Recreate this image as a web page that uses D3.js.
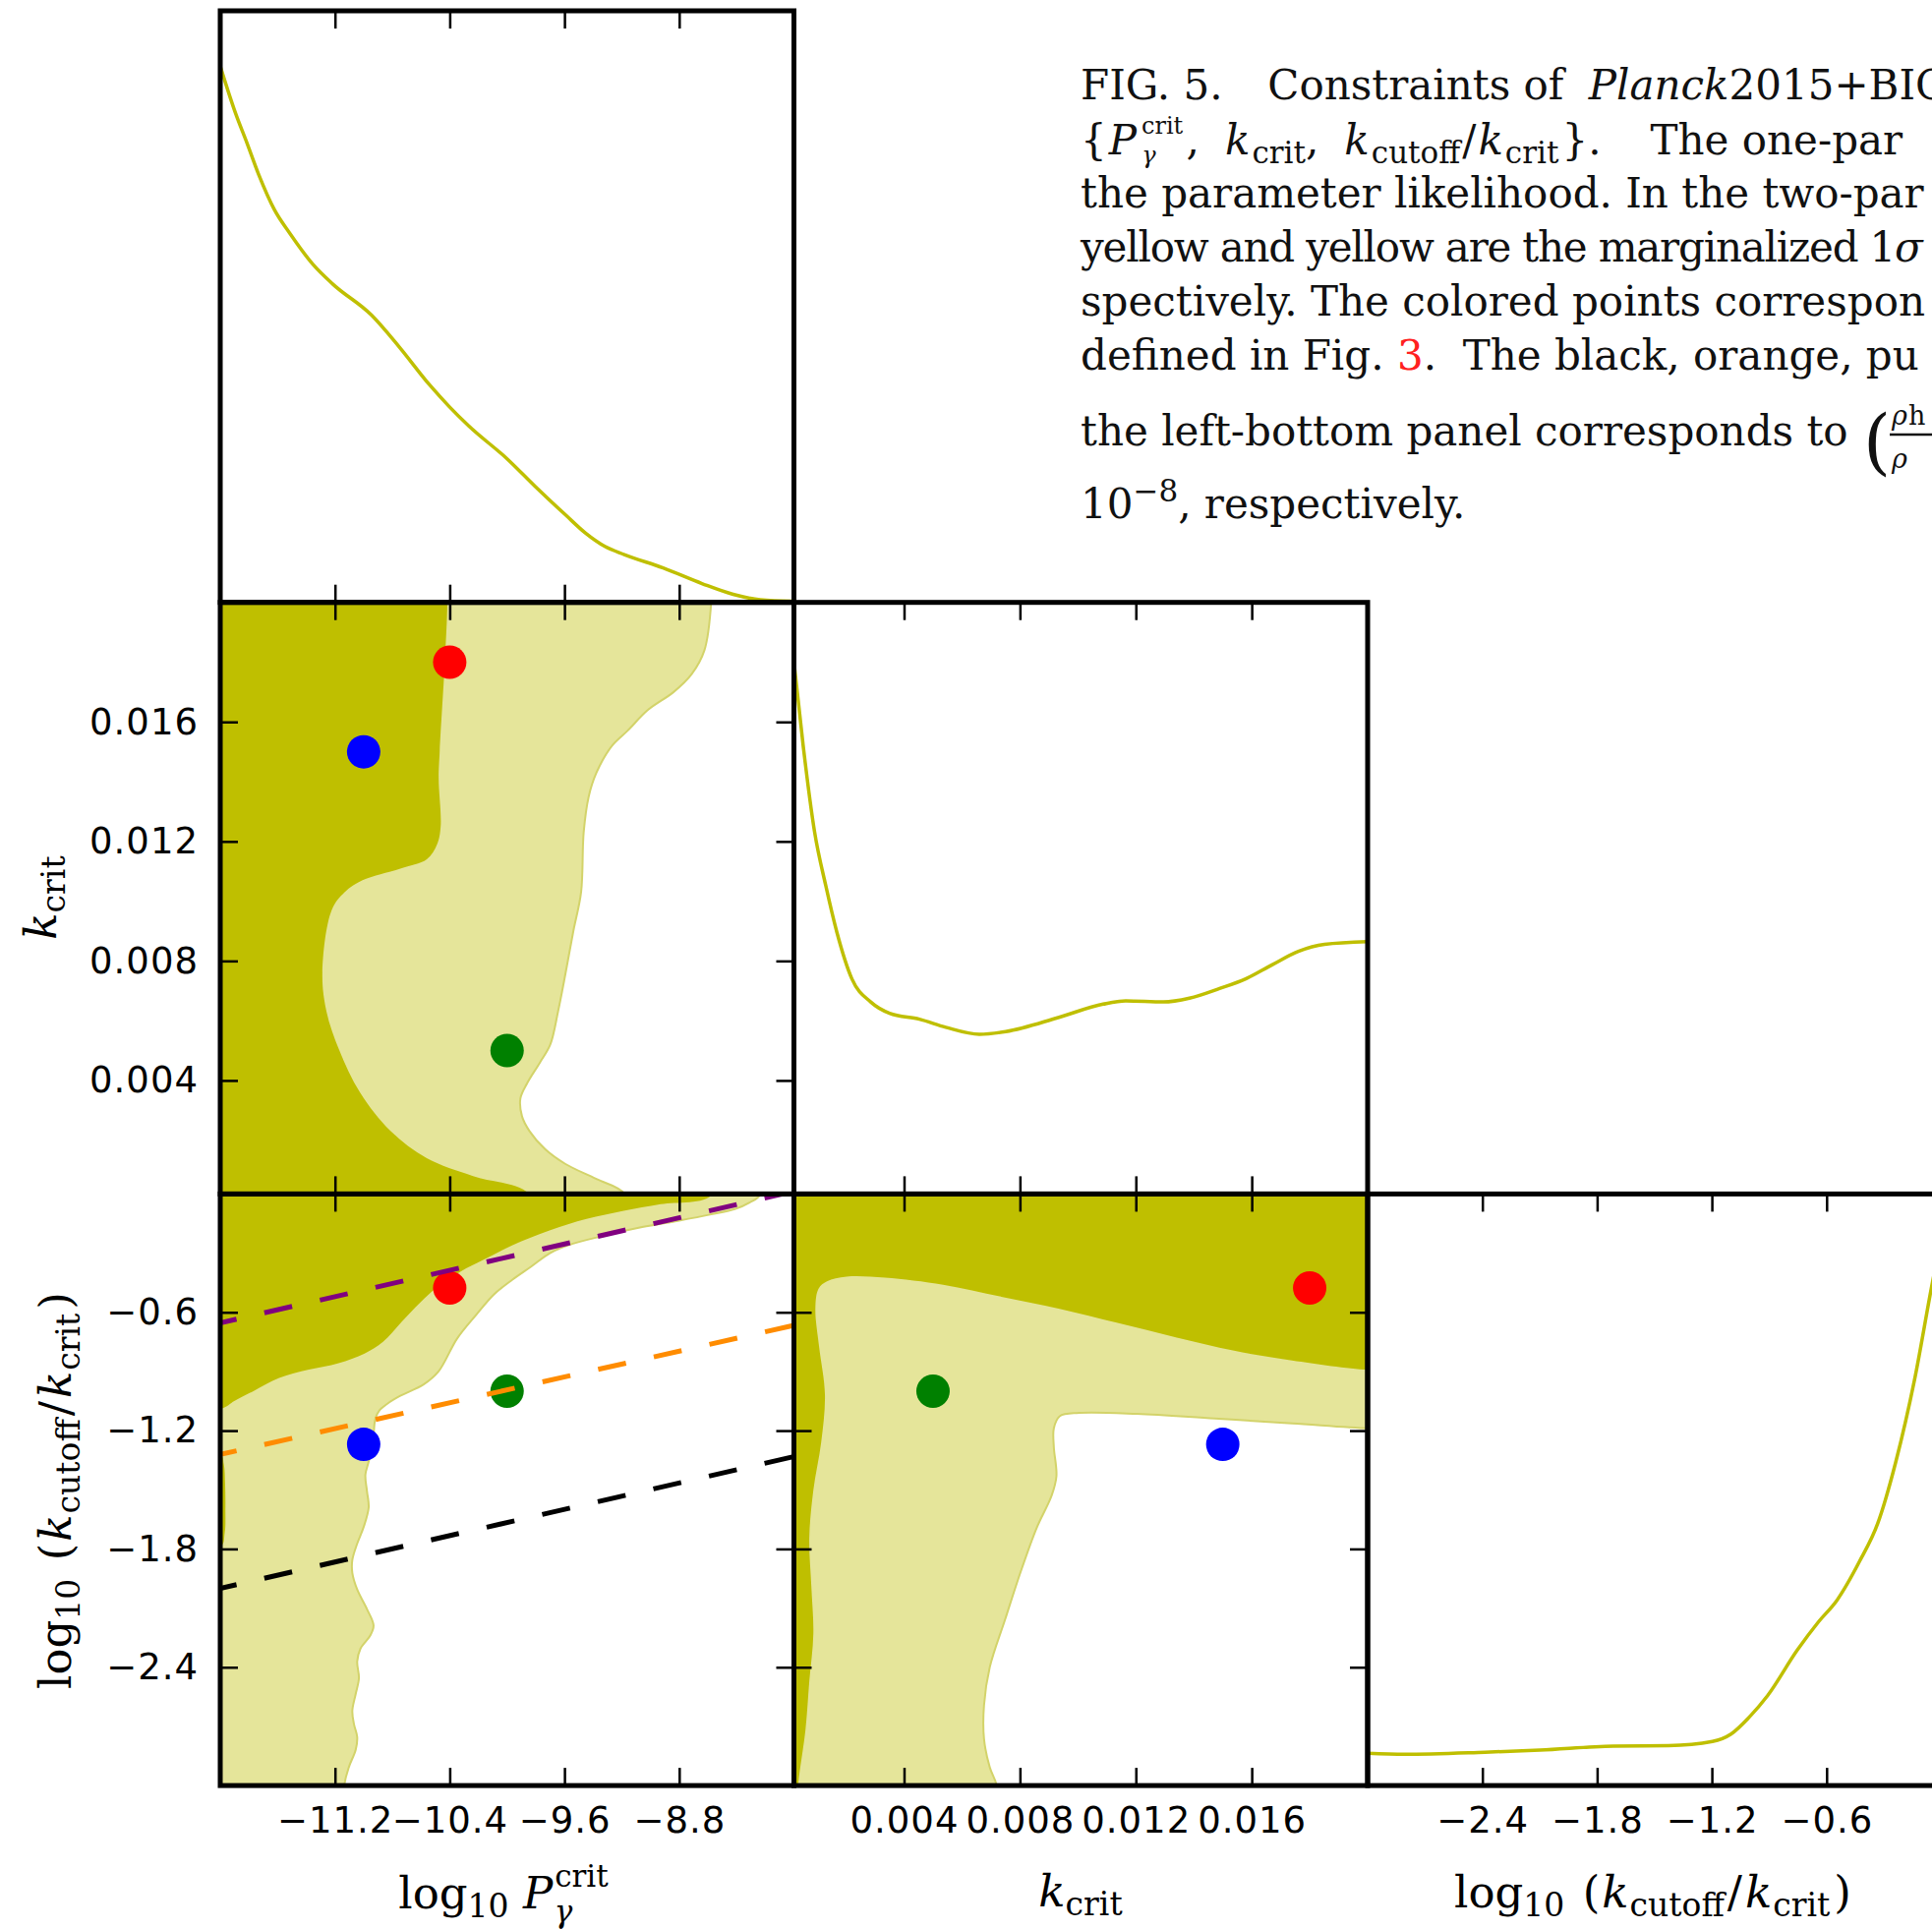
<!DOCTYPE html>
<html>
<head>
<meta charset="utf-8">
<script src="https://cdn.jsdelivr.net/npm/d3@7"></script>
<style>
  body { margin: 0; background: #fff; }
  svg { display: block; }
  text { white-space: pre; }
</style>
</head>
<body>
<svg id="chart" width="1965" height="1962"></svg>
<script>
// axis ranges and tick values
const pDomain = [-12, -8];        // log10 P_gamma^crit
const kDomain = [0.0002, 0.020];  // k_crit
const rDomain = [-3, 0];          // log10 (k_cutoff / k_crit)
const pTicks = [-11.2, -10.4, -9.6, -8.8];
const kTicks = [0.004, 0.008, 0.012, 0.016];
const rTicks = [-2.4, -1.8, -1.2, -0.6];

// one-parameter likelihoods (normalised to 1 at peak)
const pLike = [[-12.0, 0.997], [-11.894, 0.910], [-11.812, 0.853], [-11.731, 0.795], [-11.622, 0.730],
  [-11.514, 0.686], [-11.352, 0.628], [-11.216, 0.592], [-10.945, 0.534], [-10.755, 0.476],
  [-10.539, 0.404], [-10.403, 0.364], [-10.267, 0.328], [-9.996, 0.266], [-9.806, 0.216],
  [-9.59, 0.162], [-9.454, 0.129], [-9.318, 0.104], [-9.183, 0.089], [-8.912, 0.064],
  [-8.641, 0.035], [-8.424, 0.015], [-8.235, 0.005], [-8.0, 0.002]];
const kLike = [[0.0002, 0.99], [0.00052, 0.833], [0.00091, 0.674], [0.0013, 0.573], [0.00168, 0.487],
  [0.0022, 0.400], [0.00285, 0.357], [0.0035, 0.336], [0.00453, 0.325], [0.00544, 0.310],
  [0.0066, 0.297], [0.00751, 0.302], [0.00932, 0.328], [0.01087, 0.353], [0.01165, 0.359],
  [0.01295, 0.357], [0.01385, 0.364], [0.01489, 0.382], [0.01579, 0.400], [0.0167, 0.426],
  [0.01761, 0.451], [0.01851, 0.464], [0.020, 0.469]];
const rLike = [[-3.0, 0.060], [-2.808, 0.058], [-2.386, 0.062], [-2.098, 0.066], [-1.715, 0.0735],
  [-1.427, 0.0744], [-1.197, 0.082], [-1.1, 0.0957], [-1.005, 0.127], [-0.909, 0.167],
  [-0.755, 0.251], [-0.641, 0.305], [-0.545, 0.345], [-0.429, 0.416], [-0.333, 0.487],
  [-0.238, 0.602], [-0.141, 0.753], [-0.049, 0.931], [0, 1.02]];

// two-parameter contours: 1 sigma (inner) and 2 sigma (outer) edges
const pkInner = [[-10.416, 0.0200], [-10.434, 0.0180], [-10.47, 0.0150], [-10.477, 0.0141], [-10.463, 0.0125],
  [-10.488, 0.0119], [-10.56, 0.0114], [-10.739, 0.0111], [-10.883, 0.0109], [-11.008, 0.0107],
  [-11.133, 0.0103], [-11.223, 0.0097], [-11.288, 0.0076], [-11.259, 0.0063], [-11.169, 0.0050],
  [-11.026, 0.0036], [-10.811, 0.0023], [-10.56, 0.0014], [-10.237, 0.0008], [-9.843, 0.0002]];
const pkOuter = [[-8.577, 0.0200], [-8.624, 0.0184], [-8.713, 0.0176], [-8.839, 0.0170], [-9.018, 0.0164],
  [-9.161, 0.0157], [-9.269, 0.0152], [-9.377, 0.0143], [-9.431, 0.0135], [-9.466, 0.0123],
  [-9.484, 0.0103], [-9.538, 0.0090], [-9.592, 0.0076], [-9.645, 0.0063], [-9.699, 0.0052],
  [-9.771, 0.0046], [-9.861, 0.0039], [-9.907, 0.0034], [-9.896, 0.0028], [-9.843, 0.0023],
  [-9.735, 0.0017], [-9.592, 0.0012], [-9.377, 0.0007], [-9.179, 0.0002]];
const prInner = [[-8.568, 0], [-8.929, -0.052], [-9.187, -0.085], [-9.446, -0.127], [-9.704, -0.185],
  [-9.962, -0.260], [-10.168, -0.335], [-10.323, -0.393], [-10.478, -0.467], [-10.607, -0.551],
  [-10.737, -0.650], [-10.865, -0.750], [-10.994, -0.809], [-11.175, -0.858], [-11.382, -0.891],
  [-11.589, -0.933], [-11.769, -1.0], [-11.899, -1.049], [-12, -1.091]];
const prOuter = [[-8.232, 0], [-8.309, -0.044], [-8.413, -0.077], [-8.568, -0.102], [-8.8, -0.135],
  [-9.058, -0.168], [-9.316, -0.210], [-9.575, -0.260], [-9.704, -0.301], [-9.832, -0.368],
  [-9.962, -0.434], [-10.091, -0.509], [-10.22, -0.617], [-10.349, -0.734], [-10.478, -0.900],
  [-10.582, -0.966], [-10.748, -1.025], [-10.839, -1.066], [-10.892, -1.099], [-10.919, -1.141],
  [-10.935, -1.257], [-10.965, -1.357], [-10.988, -1.424], [-10.977, -1.507], [-10.965, -1.590],
  [-11.0, -1.689], [-11.045, -1.773], [-11.079, -1.856], [-11.079, -1.922], [-11.045, -2.006],
  [-10.977, -2.105], [-10.931, -2.188], [-10.953, -2.238], [-11.022, -2.305], [-11.045, -2.371],
  [-11.033, -2.455], [-11.056, -2.537], [-11.079, -2.621], [-11.068, -2.687], [-11.045, -2.754],
  [-11.056, -2.820], [-11.102, -2.904], [-11.136, -3.0]];
const prSliver = [[-12, -1.32], [-11.975, -1.37], [-11.966, -1.47], [-11.964, -1.6], [-11.969, -1.72], [-12, -1.79]];
const krInner = [[0.00034, -3.0], [0.0006, -2.715], [0.00073, -2.472], [0.00087, -2.230], [0.0008, -1.987],
  [0.00073, -1.745], [0.00087, -1.502], [0.00114, -1.260], [0.00127, -1.018], [0.00107, -0.776],
  [0.00094, -0.58], [0.00105, -0.48], [0.00134, -0.443], [0.00201, -0.419], [0.00335, -0.424],
  [0.00535, -0.460], [0.00736, -0.521], [0.00937, -0.582], [0.01137, -0.654], [0.01338, -0.727],
  [0.01539, -0.795], [0.01739, -0.844], [0.020, -0.892]];
const krOuter = [[0.020, -1.188], [0.01739, -1.163], [0.01472, -1.139], [0.01204, -1.115], [0.01004, -1.110],
  [0.00937, -1.127], [0.00917, -1.188], [0.00917, -1.284], [0.00926, -1.430], [0.0091, -1.527],
  [0.00857, -1.696], [0.00803, -1.914], [0.00749, -2.157], [0.00696, -2.399], [0.00676, -2.593],
  [0.00676, -2.763], [0.00696, -2.908], [0.0072, -3.0]];

// benchmark points (red, blue, green)
const ptLogP = [-10.4, -11.0, -10.0];
const ptK = [0.018, 0.015, 0.005];
const ptR = [-0.477, -1.27, -1.0];

// dashed relations in the left-bottom panel
const purpleLine = [[-12, -0.654], [-8, 0.013]];
const orangeLine = [[-12, -1.321], [-8, -0.666]];
const blackLine = [[-12, -2.0], [-8, -1.332]];

// ---- layout and styles ----
const gridX = 224, gridY = 11, pw = 583.5, ph = 601.7;
const dark = "#bfbf00", light = "#e5e59a", edge = "#d3d36a";
const pointColors = ["#ff0000", "#0000ff", "#008000"];
const serif = "DejaVu Serif";

const svg = d3.select("#chart");
const fillLayer = svg.append("g");
const frameLayer = svg.append("g");

const smooth = d3.curveCatmullRom.alpha(0.5);

function panel(col, row) {
  const tx = gridX + col * pw, ty = gridY + row * ph;
  const id = `clip-${col}-${row}`;
  svg.append("clipPath").attr("id", id)
    .append("rect").attr("width", pw).attr("height", ph);
  const plot = fillLayer.append("g")
    .attr("transform", `translate(${tx},${ty})`)
    .append("g").attr("clip-path", `url(#${id})`);
  const frame = frameLayer.append("g").attr("transform", `translate(${tx},${ty})`);
  return { plot, frame };
}

function frameTicks(frame, x, xT, y, yT, xFmt, yFmt) {
  const tl = 18;
  frame.append("g").call(d3.axisTop(x).tickValues(xT).tickSize(-tl).tickFormat(""));
  frame.append("g").attr("transform", `translate(0,${ph})`)
    .call(d3.axisBottom(x).tickValues(xT).tickSize(-tl).tickPadding(22).tickFormat(xFmt || (() => "")));
  if (y) {
    frame.append("g").call(d3.axisLeft(y).tickValues(yT).tickSize(-tl).tickPadding(22).tickFormat(yFmt || (() => "")));
    frame.append("g").attr("transform", `translate(${pw},0)`)
      .call(d3.axisRight(y).tickValues(yT).tickSize(-tl).tickFormat(""));
  }
  frame.selectAll(".domain").remove();
  frame.selectAll(".tick line").attr("stroke", "#000").attr("stroke-width", 2.5);
  frame.selectAll(".tick text").attr("font-family", "DejaVu Sans").attr("font-size", 37)
    .attr("letter-spacing", 1).attr("fill", "#000");
  frame.append("rect").attr("width", pw).attr("height", ph)
    .attr("fill", "none").attr("stroke", "#000").attr("stroke-width", 5);
}

const xP = d3.scaleLinear().domain(pDomain).range([0, pw]);
const xK = d3.scaleLinear().domain(kDomain).range([0, pw]);
const xR = d3.scaleLinear().domain(rDomain).range([0, pw]);
const yK = d3.scaleLinear().domain(kDomain).range([ph, 0]);
const yR = d3.scaleLinear().domain(rDomain).range([ph, 0]);
const yL = d3.scaleLinear().domain([0, 1.1]).range([ph, 0]);

const fP = d3.format(".1f"), fK = d3.format(".3f");

function curve1D(plot, x, data) {
  plot.append("path")
    .attr("d", d3.line().x(d => x(d[0])).y(d => yL(d[1])).curve(d3.curveMonotoneX)(data))
    .attr("fill", "none").attr("stroke", dark).attr("stroke-width", 3.5);
}

function area(plot, x, y, pts, color) {
  plot.append("path")
    .attr("d", d3.line().x(d => x(d[0])).y(d => y(d[1])).curve(smooth)(pts) + "Z")
    .attr("fill", color);
}
function outline(plot, x, y, pts) {
  plot.append("path")
    .attr("d", d3.line().x(d => x(d[0])).y(d => y(d[1])).curve(smooth)(pts))
    .attr("fill", "none").attr("stroke", edge).attr("stroke-width", 2);
}
function dots(plot, x, y, xs, ys) {
  plot.selectAll(null).data(xs).join("circle")
    .attr("cx", (d, i) => x(xs[i])).attr("cy", (d, i) => y(ys[i]))
    .attr("r", 17).attr("fill", (d, i) => pointColors[i]);
}

// ---- top-left: P likelihood ----
{
  const { plot, frame } = panel(0, 0);
  curve1D(plot, xP, pLike);
  frameTicks(frame, xP, pTicks);
}

// ---- middle-left: P vs k ----
{
  const { plot, frame } = panel(0, 1);
  const kHi = kDomain[1] + 0.002, kLo = kDomain[0] - 0.002, pLo = pDomain[0] - 1;
  const lastO = pkOuter[pkOuter.length - 1], lastI = pkInner[pkInner.length - 1];
  area(plot, xP, yK, [[pLo, kHi], [pkOuter[0][0], kHi], ...pkOuter, [lastO[0] + 0.15, kLo], [pLo, kLo]], light);
  area(plot, xP, yK, [[pLo, kHi], [pkInner[0][0], kHi], ...pkInner, [lastI[0] + 0.2, kLo], [pLo, kLo]], dark);
  outline(plot, xP, yK, [[pkOuter[0][0], kHi], ...pkOuter, [lastO[0] + 0.15, kLo]]);
  dots(plot, xP, yK, ptLogP, ptK);
  frameTicks(frame, xP, pTicks, yK, kTicks, null, fK);
}

// ---- centre: k likelihood ----
{
  const { plot, frame } = panel(1, 1);
  curve1D(plot, xK, kLike);
  frameTicks(frame, xK, kTicks);
}

// ---- bottom-left: P vs cutoff ratio ----
{
  const { plot, frame } = panel(0, 2);
  const rHi = 0.3, rLo = -3.3, pLo = pDomain[0] - 1;
  area(plot, xP, yR, [[pLo, rHi], [prOuter[0][0] + 0.05, rHi], ...prOuter, [-11.16, rLo], [pLo, rLo]], light);
  area(plot, xP, yR, [[pLo, rHi], [prInner[0][0] - 0.05, rHi], ...prInner, [pLo, -1.12]], dark);
  area(plot, xP, yR, [[pLo, -1.3], ...prSliver, [pLo, -1.81]], dark);
  outline(plot, xP, yR, [[prOuter[0][0] + 0.05, rHi], ...prOuter, [-11.16, rLo]]);
  dots(plot, xP, yR, ptLogP, ptR);
  const line = d3.line().x(d => xP(d[0])).y(d => yR(d[1]));
  [[purpleLine, "#800080"], [orangeLine, "#ff8c00"], [blackLine, "#000000"]].forEach(([pts, c]) => {
    plot.append("path").attr("d", line(pts))
      .attr("fill", "none").attr("stroke", c).attr("stroke-width", 5)
      .attr("stroke-dasharray", "29,29").attr("stroke-dashoffset", 12);
  });
  frameTicks(frame, xP, pTicks, yR, rTicks, fP, fP);
}

// ---- bottom-centre: k vs cutoff ratio ----
{
  const { plot, frame } = panel(1, 2);
  const kLo = kDomain[0] - 0.001, kHi = kDomain[1] + 0.001, rHi = 0.3, rLo = -3.3;
  const lastO = krOuter[krOuter.length - 1];
  area(plot, xK, yR, [[kLo, rHi], [kHi, rHi], [kHi, krOuter[0][1]], ...krOuter, [lastO[0] + 0.0002, rLo], [kLo, rLo]], light);
  area(plot, xK, yR, [[kLo, rHi], [kHi, rHi], [kHi, -0.892], ...krInner.slice().reverse(), [0.0002, rLo], [kLo, rLo]], dark);
  outline(plot, xK, yR, [[kHi, krOuter[0][1]], ...krOuter, [lastO[0] + 0.0002, rLo]]);
  dots(plot, xK, yR, ptK, ptR);
  frameTicks(frame, xK, kTicks, yR, rTicks, fK, null);
}

// ---- bottom-right: cutoff ratio likelihood ----
{
  const { plot, frame } = panel(2, 2);
  curve1D(plot, xR, rLike);
  frameTicks(frame, xR, rTicks, null, null, fP);
}

// ---- axis labels ----
const labels = svg.append("g").attr("font-family", serif).attr("font-size", 45).attr("fill", "#000");
function rich(sel, parts) {
  parts.forEach(p => {
    const s = sel.append("tspan").text(p.t);
    if (p.i) s.attr("font-style", "italic");
    if (p.fs) s.attr("font-size", p.fs);
    if (p.dx) s.attr("dx", p.dx);
    if (p.dy) s.attr("dy", p.dy);
    if (p.fill) s.attr("fill", p.fill);
  });
  return sel;
}
const sub = 33;
const ratioLabel = [
  { t: "log" }, { t: "10", fs: sub, dy: 9 }, { t: " (", dx: 4, dy: -9 }, { t: "k", i: 1, dx: 2 },
  { t: "cutoff", fs: sub, dx: 1, dy: 9 }, { t: "/", dx: 3, dy: -9 }, { t: "k", i: 1, dx: 3 },
  { t: "crit", fs: sub, dx: 1, dy: 9 }, { t: ")", dx: 4, dy: -9 }
];
rich(labels.append("text").attr("x", 512).attr("y", 1941).attr("text-anchor", "middle"), [
  { t: "log" }, { t: "10", fs: sub, dy: 9 }, { t: " ", dy: -9 }, { t: "P", i: 1 },
  { t: "crit", fs: 31, dx: 2, dy: -22 }, { t: "γ", i: 1, fs: 31, dx: -55, dy: 36 }, { t: "", dy: -14 }
]);
rich(labels.append("text").attr("x", 1099).attr("y", 1939).attr("text-anchor", "middle"), [
  { t: "k", i: 1 }, { t: "crit", fs: sub, dy: 9 }
]);
rich(labels.append("text").attr("x", 1681).attr("y", 1940).attr("text-anchor", "middle"), ratioLabel);
rich(labels.append("text").attr("transform", "translate(57,913) rotate(-90)").attr("text-anchor", "middle"), [
  { t: "k", i: 1 }, { t: "crit", fs: sub, dy: 9 }
]);
rich(labels.append("text").attr("transform", "translate(72,1516) rotate(-90)").attr("text-anchor", "middle"), ratioLabel);

// ---- caption fragment (cut by the right edge of the picture) ----
svg.append("clipPath").attr("id", "clip-cap").append("rect").attr("width", 1965).attr("height", 1962);
const cap = svg.append("g").attr("clip-path", "url(#clip-cap)")
  .attr("font-family", serif).attr("font-size", 42).attr("fill", "#111");
const capX = 1099;
const cs = 31;
const capLines = [
  [101, [{ t: "FIG. 5.  " }, { t: "Constraints of ", dx: 19 }, { t: "Planck", i: 1, dx: 12 }, { t: "2015+BIC" }]],
  [157, [{ t: "{" }, { t: "P", i: 1, dx: 2 }, { t: "crit", fs: 24, dx: 5, dy: -21 },
         { t: "γ", i: 1, fs: 24, dx: -42, dy: 30 }, { t: ",", dx: 31, dy: -9 },
         { t: "k", i: 1, dx: 26 }, { t: "crit", fs: cs, dx: 2, dy: 9 }, { t: ",", dy: -9 },
         { t: "k", i: 1, dx: 26 }, { t: "cutoff", fs: cs, dx: 2, dy: 9 }, { t: "/", dx: 2, dy: -9 },
         { t: "k", i: 1, dx: 2 }, { t: "crit", fs: cs, dx: 2, dy: 9 }, { t: "}.", dx: 3, dy: -9 },
         { t: "The one-par", dx: 50 }]],
  [211, [{ t: "the parameter likelihood. In the two-par" }]],
  [266, [{ t: "yellow and yellow are the marginalized 1" }, { t: "σ", i: 1 }], -1.2],
  [321, [{ t: "spectively. The colored points correspon" }]],
  [376, [{ t: "defined in Fig. " }, { t: "3", fill: "#ff2020" }, { t: ".  The black, orange, pu" }]],
  [453, [{ t: "the left-bottom panel corresponds to" }]],
  [527, [{ t: "10" }, { t: "−8", fs: cs, dy: -17 }, { t: ", respectively.", dy: 17 }]]
];
capLines.forEach(([y, parts, ls]) => {
  const t = cap.append("text").attr("x", capX).attr("y", y);
  if (ls) t.attr("letter-spacing", ls);
  rich(t, parts);
});
// large bracket and fraction at the end of line 7
cap.append("text").attr("x", 1895).attr("y", 474).attr("font-size", 72).attr("font-weight", 200).text("(");
rich(cap.append("text").attr("x", 1924).attr("y", 432).attr("font-size", 27), [{ t: "ρ", i: 1 }, { t: "h", dx: 1 }]);
rich(cap.append("text").attr("x", 1924).attr("y", 476).attr("font-size", 27), [{ t: "ρ", i: 1 }]);
cap.append("line").attr("x1", 1922).attr("x2", 1965).attr("y1", 442).attr("y2", 442)
  .attr("stroke", "#111").attr("stroke-width", 2.5);
</script>
</body>
</html>
